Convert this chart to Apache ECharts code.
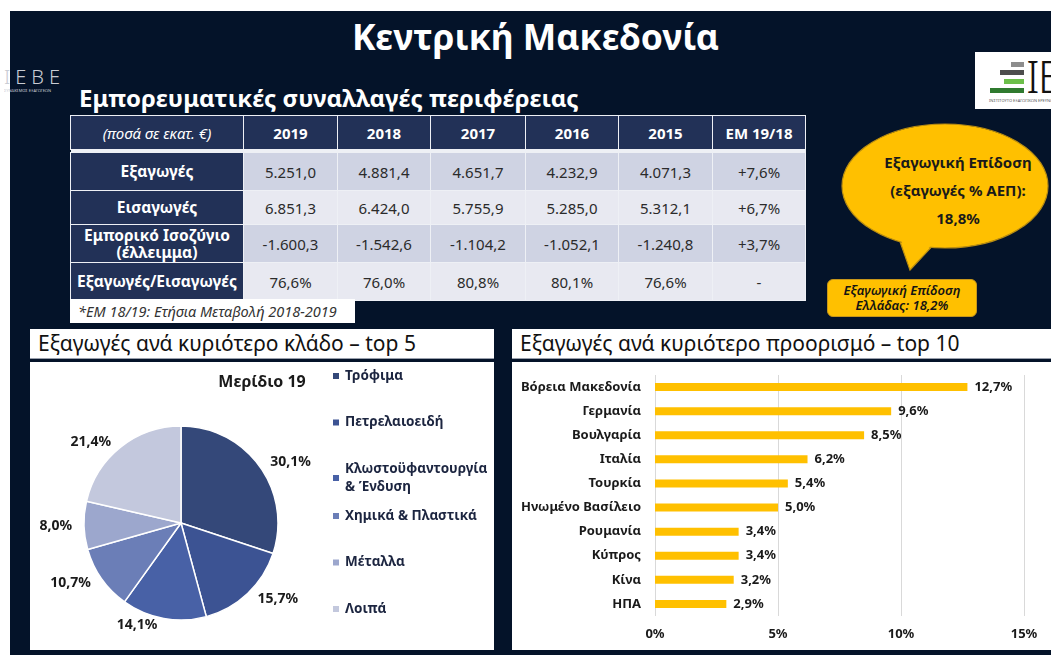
<!DOCTYPE html>
<html lang="el">
<head>
<meta charset="utf-8">
<title>Κεντρική Μακεδονία</title>
<script src="https://cdn.jsdelivr.net/npm/echarts@6/dist/echarts.min.js"></script>
<style>
  html, body { margin:0; padding:0; background:#fff; }
  body { width:1051px; height:655px; position:relative; overflow:hidden; font-family:"Noto Sans", "DejaVu Sans", sans-serif; }
  .abs { position:absolute; }
  #bg { left:10px; top:11px; width:1041px; height:644px; background:#041329; }
  #title { left:0; width:1071px; top:11px; text-align:center; color:#fff; font-weight:bold; font-size:35.5px; line-height:50px; }
  #subtitle { left:79px; top:81px; color:#fff; font-weight:bold; font-size:24px; line-height:34px; }
  #logoL { left:4px; top:66px; width:60px; height:34px; overflow:hidden; color:#c9ccd4; }
  #logoL .big { font-size:20px; letter-spacing:5px; line-height:22px; font-weight:300; }
  #logoL .small { font-size:4px; line-height:6px; white-space:nowrap; }
  #logoR { left:975px; top:52px; width:76px; height:57px; background:#fff; overflow:hidden; }
  #logoR .bar { position:absolute; height:5px; }
  #logoR .ie { position:absolute; left:51px; top:2px; font-size:44px; line-height:44px; color:#111; font-weight:300; letter-spacing:-2px; }
  #logoR .tiny { position:absolute; left:14px; top:46px; font-size:4px; color:#555; white-space:nowrap; }
  table#tbl { left:70px; top:115px; border-collapse:collapse; table-layout:fixed; }
  #tbl td { border:1.5px solid #eef0f5; text-align:center; vertical-align:middle; padding:0; font-size:15px; color:#2b2b2b; }
  #tbl td.hd { background:#223157; color:#fff; font-weight:bold; }
  #tbl td.hd.first { font-style:italic; font-weight:normal; }
  #tbl td.lab { background:#223157; color:#fff; font-weight:bold; line-height:17px; font-size:15.5px; }
  #tbl tr.dark td.val { background:#cfd3e3; }
  #tbl tr.light td.val { background:#e8e9f1; }
  #tbl tr.gap td { height:2px; border:none; background:#eef0f5; }
  #note { left:70px; top:299px; width:277px; height:24px; background:#fff; color:#333; font-style:italic; font-size:14.5px; line-height:24px; padding-left:8px; white-space:nowrap; }
  #bubble { left:0; top:0; }
  #bubbleText { left:855px; width:206px; top:148px; text-align:center; color:#1a1a1a; font-weight:bold; font-size:15px; line-height:28px; }
  #greece { left:827px; top:279px; width:148px; height:36px; background:#ffc000; border:1.5px solid #c7961a; border-radius:6px; color:#141414; font-style:italic; font-weight:600; font-size:13px; line-height:15px; text-align:center; display:flex; flex-direction:column; justify-content:center; }
  .ptitle { background:#fff; color:#111; font-size:21px; line-height:29px; padding-left:8px; box-sizing:border-box; border-bottom:1px solid #9aa0ad; white-space:nowrap; overflow:hidden; }
  .pbox { background:#fff; }
  #chart { left:0; top:0; width:1051px; height:655px; }
</style>
</head>
<body>
<div id="bg" class="abs"></div>
<div id="title" class="abs">Κεντρική Μακεδονία</div>
<div id="logoL" class="abs"><div class="big">ΙΕΒΕ</div><div class="small">ΣΥΝΔΕΣΜΟΣ ΕΞΑΓΩΓΕΩΝ</div></div>
<div id="subtitle" class="abs">Εμπορευματικές συναλλαγές περιφέρειας</div>
<div id="logoR" class="abs">
  <div class="bar" style="left:36px;top:10px;width:13px;background:#8d8d8d"></div>
  <div class="bar" style="left:25px;top:18px;width:24px;background:#4d4d4d"></div>
  <div class="bar" style="left:29px;top:27px;width:20px;background:#6cbf4a"></div>
  <div class="bar" style="left:15px;top:36px;width:34px;background:#2f7a2f"></div>
  <div class="ie">ΙΕ</div>
  <div class="tiny">ΙΝΣΤΙΤΟΥΤΟ ΕΞΑΓΩΓΙΚΩΝ ΕΡΕΥΝΩΝ</div>
</div>
<table id="tbl" class="abs"></table>
<div id="note" class="abs">*ΕΜ 18/19: Ετήσια Μεταβολή 2018-2019</div>

<svg id="bubble" class="abs" width="1051" height="655">
  <polygon points="898,236 938,240 910,270" fill="#ffc000" stroke="#b98d12" stroke-width="1.2"/>
  <ellipse cx="945" cy="186" rx="103" ry="62" fill="#ffc000" stroke="#b98d12" stroke-width="1.2"/>
  <polygon points="900,236 936,240 910,268" fill="#ffc000"/>
</svg>
<div id="bubbleText" class="abs">Εξαγωγική Επίδοση<br>(εξαγωγές % ΑΕΠ):<br><span id="gdpShare"></span></div>
<div id="greece" class="abs"><div>Εξαγωγική Επίδοση</div><div id="greeceShare"></div></div>

<div class="abs ptitle" style="left:30px;top:329px;width:464px;height:30px;">Εξαγωγές ανά κυριότερο κλάδο – top 5</div>
<div class="abs pbox" style="left:30px;top:362px;width:464px;height:288px;"></div>
<div class="abs ptitle" style="left:512px;top:329px;width:539px;height:30px;">Εξαγωγές ανά κυριότερο προορισμό – top 10</div>
<div class="abs pbox" style="left:512px;top:362px;width:539px;height:288px;"></div>

<div id="chart" class="abs"></div>

<script>
// ---- Trade table (million €) ----
const years = ['2019', '2018', '2017', '2016', '2015'];
const unitHeader = '(ποσά σε εκατ. €)';
const changeHeader = 'ΕΜ 19/18';
const rowLabels = ['Εξαγωγές', 'Εισαγωγές', 'Εμπορικό Ισοζύγιο<br>(έλλειμμα)', 'Εξαγωγές/Εισαγωγές'];
const exportsVals = [5251.0, 4881.4, 4651.7, 4232.9, 4071.3];
const importsVals = [6851.3, 6424.0, 5755.9, 5285.0, 5312.1];
const balanceVals = [-1600.3, -1542.6, -1104.2, -1052.1, -1240.8];
const coverageVals = [76.6, 76.0, 80.8, 80.1, 76.6];
const changeVals = [7.6, 6.7, 3.7, null];

// ---- Export performance ----
const gdpShareRegion = 18.8;
const gdpShareGreece = 18.2;

// ---- Exports by sector, share 2019 (%) ----
const sectors = ['Τρόφιμα', 'Πετρελαιοειδή', 'Κλωστοϋφαντουργία\n& Ένδυση', 'Χημικά & Πλαστικά', 'Μέταλλα', 'Λοιπά'];
const sectorShares = [30.1, 15.7, 14.1, 10.7, 8.0, 21.4];
const sectorColors = ['#344879', '#3c5393', '#4861a6', '#6b7eb7', '#9ca7cd', '#c3c8dd'];

// ---- Exports by destination, share (%) ----
const destinations = ['Βόρεια Μακεδονία', 'Γερμανία', 'Βουλγαρία', 'Ιταλία', 'Τουρκία', 'Ηνωμένο Βασίλειο', 'Ρουμανία', 'Κύπρος', 'Κίνα', 'ΗΠΑ'];
const destShares = [12.7, 9.6, 8.5, 6.2, 5.4, 5.0, 3.4, 3.4, 3.2, 2.9];
const destAxisMax = 15;
const destAxisStep = 5;

// Greek number formatting: 5.251,0 / 76,6%
function fmtNum(v) {
  const parts = Math.abs(v).toFixed(1).split('.');
  const intPart = parts[0].replace(/\B(?=(\d{3})+(?!\d))/g, '.');
  return (v < 0 ? '-' : '') + intPart + ',' + parts[1];
}
function fmtPct(v) { return v.toFixed(1).replace('.', ',') + '%'; }
function fmtChange(v) { return v === null ? '-' : (v >= 0 ? '+' : '') + fmtPct(v); }

// Build the table
(function buildTable() {
  const colW = [173, 94, 93, 95, 93, 94, 93];
  const rowH = [38, 34, 38, 38];
  const tbl = document.getElementById('tbl');
  let html = '<colgroup>' + colW.map(w => '<col style="width:' + w + 'px">').join('') + '</colgroup>';
  html += '<tr style="height:34px"><td class="hd first">' + unitHeader + '</td>' +
    years.map(y => '<td class="hd">' + y + '</td>').join('') +
    '<td class="hd">' + changeHeader + '</td></tr>';
  html += '<tr class="gap"><td colspan="7"></td></tr>';
  const rows = [
    exportsVals.map(fmtNum),
    importsVals.map(fmtNum),
    balanceVals.map(fmtNum),
    coverageVals.map(fmtPct)
  ];
  rows.forEach((cells, r) => {
    html += '<tr class="' + (r % 2 === 0 ? 'dark' : 'light') + '" style="height:' + rowH[r] + 'px">' +
      '<td class="lab">' + rowLabels[r] + '</td>' +
      cells.map(c => '<td class="val">' + c + '</td>').join('') +
      '<td class="val">' + fmtChange(changeVals[r]) + '</td></tr>';
  });
  tbl.innerHTML = html;
  document.getElementById('gdpShare').textContent = fmtPct(gdpShareRegion);
  document.getElementById('greeceShare').textContent = 'Ελλάδας: ' + fmtPct(gdpShareGreece);
})();

const FONT = '"Noto Sans", "DejaVu Sans", sans-serif';
const chart = echarts.init(document.getElementById('chart'), null, { renderer: 'canvas' });

const legendText = { fontFamily: FONT, fontSize: 13.5, fontWeight: 'bold', color: '#1c2540', lineHeight: 18 };

chart.setOption({
  animation: false,
  backgroundColor: 'transparent',
  textStyle: { fontFamily: FONT },
  color: sectorColors,
  graphic: [{
    type: 'text', x: 262, y: 382,
    style: { text: 'Μερίδιο 19', fontFamily: FONT, fontSize: 16, fontWeight: 'bold', fill: '#1a1a1a', align: 'center', verticalAlign: 'middle' }
  }],
  legend: [
    { orient: 'vertical', left: 331, top: 367, padding: 0, itemWidth: 8, itemHeight: 8, itemGap: 28.5, icon: 'rect',
      data: sectors.slice(0, 3), textStyle: legendText, selectedMode: false },
    { orient: 'vertical', left: 331, top: 507, padding: 0, itemWidth: 8, itemHeight: 8, itemGap: 28.5, icon: 'rect',
      data: sectors.slice(3), textStyle: legendText, selectedMode: false }
  ],
  grid: { left: 655, right: 27, top: 375, bottom: 39 },
  xAxis: {
    type: 'value', min: 0, max: destAxisMax, interval: destAxisStep,
    axisLine: { show: false }, axisTick: { show: false },
    splitLine: { lineStyle: { color: '#d9d9d9', width: 1 } },
    axisLabel: { formatter: '{value}%', fontFamily: FONT, fontSize: 13, fontWeight: 'bold', color: '#1a1a1a', margin: 12 }
  },
  yAxis: {
    type: 'category', inverse: true, data: destinations,
    axisLine: { show: false }, axisTick: { show: false }, splitLine: { show: false },
    axisLabel: { fontFamily: FONT, fontSize: 13, fontWeight: 'bold', color: '#1a1a1a', margin: 14 }
  },
  series: [
    {
      type: 'pie', center: [181, 523], radius: 97, startAngle: 90, clockwise: true,
      avoidLabelOverlap: false,
      data: sectors.map((n, i) => ({ name: n, value: sectorShares[i] })),
      itemStyle: { borderColor: '#ffffff', borderWidth: 1.5 },
      label: { show: true, position: 'outside', formatter: p => fmtPct(p.value), fontFamily: FONT, fontSize: 14, fontWeight: 'bold', color: '#1a1a1a' },
      labelLine: { show: false, length: 7, length2: 0 },
      emphasis: { disabled: true }
    },
    {
      type: 'bar', data: destShares, barWidth: 8,
      itemStyle: { color: '#ffc000' },
      label: { show: true, position: 'right', distance: 7, formatter: p => fmtPct(p.value), fontFamily: FONT, fontSize: 13, fontWeight: 'bold', color: '#1a1a1a' },
      emphasis: { disabled: true }
    }
  ]
});
</script>
</body>
</html>
